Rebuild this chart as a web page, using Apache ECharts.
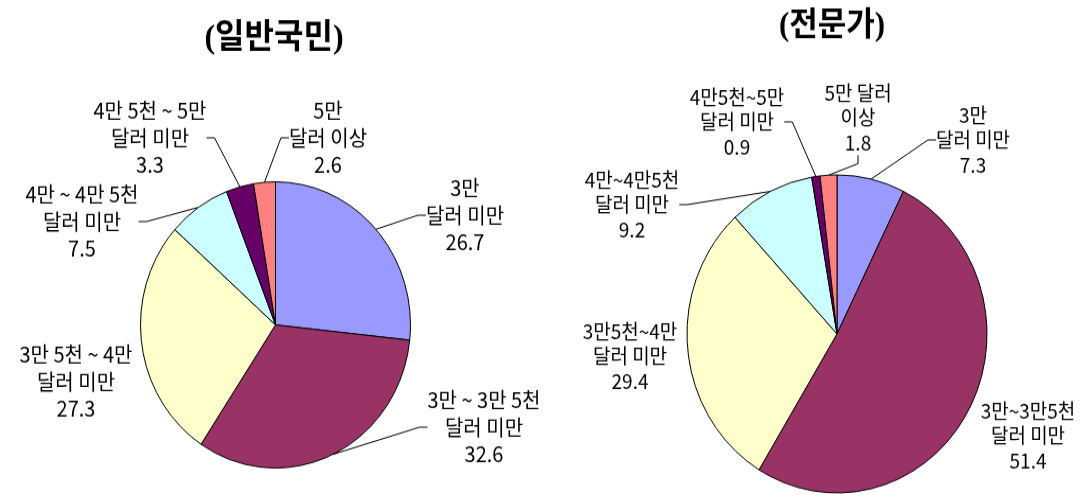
<!DOCTYPE html>
<html>
<head>
<meta charset="utf-8">
<script src="https://cdn.jsdelivr.net/npm/echarts@6/dist/echarts.min.js"></script>
<style>
  html, body { margin: 0; padding: 0; background: #ffffff; }
  body { width: 1086px; height: 494px; overflow: hidden; }
  /* the chart is drawn slightly compressed and stretched back vertically */
  #chart { width: 1086px; height: 466px; transform: scaleY(1.06); transform-origin: 0 0; }
</style>
</head>
<body>
<div id="chart"></div>
<script>
// Income brackets (US dollars), clockwise from 12 o'clock
const publicCategories = ['3만\n달러 미만', '3만 ~ 3만 5천\n달러 미만', '3만 5천 ~ 4만\n달러 미만',
  '4만 ~ 4만 5천\n달러 미만', '4만 5천 ~ 5만\n달러 미만', '5만\n달러 이상'];
const expertCategories = ['3만\n달러 미만', '3만~3만5천\n달러 미만', '3만5천~4만\n달러 미만',
  '4만~4만5천\n달러 미만', '4만5천~5만\n달러 미만', '5만 달러\n이상'];

// Shares (%)
const publicValues = [26.7, 32.6, 27.3, 7.5, 3.3, 2.6];
const expertValues = [7.3, 51.4, 29.4, 9.2, 0.9, 1.8];

const titles = ['(일반국민)', '(전문가)'];

const sliceColors = ['#9999FF', '#993366', '#FFFFCC', '#CCFFFF', '#660066', '#FF8080'];

// label anchor points (label centres) for each pie
const publicLabelPos = [[465, 203], [484, 403], [76, 360], [82, 209], [150, 130], [328, 130]];
const expertLabelPos = [[973, 132], [1028, 411], [630, 336], [632, 193], [737, 115], [858, 111]];
// slices whose labels sit right against the pie and need no leader line
const publicNoLine = [2];
const expertNoLine = [1, 2];

const FONT = '"Noto Sans CJK KR", "Noto Sans", sans-serif';
const TITLE_FONT = '"Liberation Serif", "Noto Sans CJK KR", serif';

function buildData(names, values, noLine) {
  return names.map((n, i) => {
    const d = { name: n, value: values[i], itemStyle: { color: sliceColors[i] } };
    if (noLine.indexOf(i) >= 0) d.labelLine = { show: false };
    return d;
  });
}

function pieSeries(names, values, noLine, center, radius, labelPos, fontSize, lineHeight) {
  return {
    type: 'pie',
    center: center,
    radius: radius,
    startAngle: 90,
    clockwise: true,
    avoidLabelOverlap: false,
    animation: false,
    silent: true,
    itemStyle: { borderColor: '#000000', borderWidth: 1 },
    label: {
      show: true,
      position: 'outside',
      formatter: p => p.name + '\n' + p.value,
      color: '#000000',
      fontFamily: FONT,
      fontSize: fontSize,
      lineHeight: lineHeight,
      align: 'center'
    },
    labelLine: {
      show: true,
      length: 10,
      length2: 8,
      lineStyle: { color: '#000000', width: 1 }
    },
    labelLayout: function (params) {
      const p = labelPos[params.dataIndex];
      return { x: p[0], y: p[1], align: 'center', verticalAlign: 'middle' };
    },
    emphasis: { disabled: true },
    data: buildData(names, values, noLine)
  };
}

const chart = echarts.init(document.getElementById('chart'), null, { renderer: 'canvas' });
chart.setOption({
  backgroundColor: '#ffffff',
  title: [
    {
      text: titles[0], left: 274, top: 21, textAlign: 'center', padding: 0,
      textStyle: { fontFamily: TITLE_FONT, fontWeight: 'bold', fontSize: 32, color: '#000000' }
    },
    {
      text: titles[1], left: 832, top: 9, textAlign: 'center', padding: 0,
      textStyle: { fontFamily: TITLE_FONT, fontWeight: 'bold', fontSize: 31, color: '#000000' }
    }
  ],
  series: [
    pieSeries(publicCategories, publicValues, publicNoLine, [275.5, 306.5], 135, publicLabelPos, 20, 25.5),
    pieSeries(expertCategories, expertValues, expertNoLine, [837, 315], 150, expertLabelPos, 19, 23.6)
  ]
});
</script>
</body>
</html>
